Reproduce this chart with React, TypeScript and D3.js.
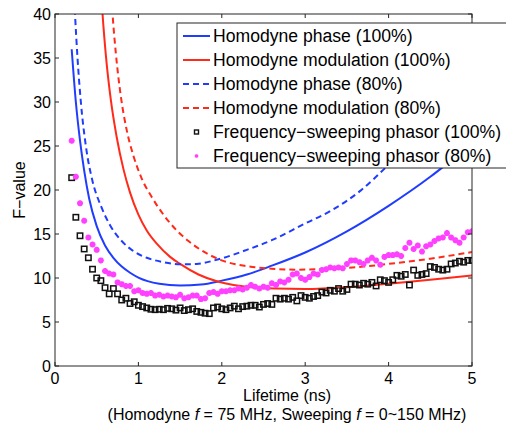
import React from "react";
import * as d3 from "d3";

// ---------- data ----------
const xTicks = [0, 1, 2, 3, 4, 5];
const yTicks = [0, 5, 10, 15, 20, 25, 30, 35, 40];

const phase100Tau = [0.2, 0.25, 0.3, 0.35, 0.41, 0.5, 0.6, 0.7, 0.8, 0.9, 1.0, 1.25, 1.5, 1.75, 2.0, 2.3, 2.6, 3.0, 3.5, 4.0, 4.5, 5.0];
const phase100F = [36, 30, 25.6, 22.2, 19.0, 15.9, 13.7, 12.3, 11.3, 10.6, 10.05, 9.35, 9.15, 9.25, 9.7, 10.4, 11.4, 12.9, 15.3, 18.2, 21.5, 25.3];

const mod100Tau = [0.55, 0.57, 0.61, 0.67, 0.74, 0.82, 0.9, 1.0, 1.1, 1.22, 1.38, 1.5, 1.72, 1.95, 2.14, 2.35, 2.64, 3.0, 3.5, 4.0, 4.5, 5.0];
const mod100F = [43, 40, 35.3, 30.2, 26, 22.4, 19.7, 17.2, 15.4, 13.9, 12.4, 11.6, 10.4, 9.6, 9.2, 8.95, 8.8, 8.75, 8.95, 9.35, 9.8, 10.3];

const phase80Tau = [0.22, 0.24, 0.27, 0.31, 0.37, 0.45, 0.55, 0.66, 0.8, 0.95, 1.1, 1.3, 1.5, 1.7, 1.95, 2.3, 2.6, 3.0, 3.3, 3.66, 3.96, 4.5, 5.0];
const phase80F = [44, 40, 35, 30, 25, 21, 18.2, 16.0, 14.2, 13.0, 12.3, 11.8, 11.55, 11.6, 12.1, 13.2, 14.3, 16.2, 17.6, 19.9, 22.5, 27.5, 33];

const mod80Tau = [0.67, 0.69, 0.73, 0.79, 0.86, 0.94, 1.04, 1.16, 1.3, 1.45, 1.6, 1.8, 2.0, 2.3, 2.6, 2.9, 3.3, 3.7, 4.0, 4.5, 5.0];
const mod80F = [43, 40, 35.5, 30.6, 26.8, 23.9, 21.3, 19.2, 17.2, 15.5, 14.2, 12.9, 12.0, 11.35, 11.05, 10.95, 11.05, 11.3, 11.6, 12.2, 12.95];

const sweepTau = d3.range(97).map((i) => +(0.2 + i * 0.05).toFixed(2));
const sweep100F = [
  21.4, 16.9, 14.8, 13.3, 12.3, 11.0, 10.0, 9.7, 8.9, 8.2,
  8.8, 8.2, 7.5, 7.7, 7.1, 7.3, 6.9, 6.75, 6.6, 6.45,
  6.4, 6.45, 6.4, 6.55, 6.5, 6.35, 6.6, 6.3, 6.4, 6.5,
  6.2, 6.1, 6.0, 5.95, 6.6, 6.7, 6.5, 6.4, 6.6, 6.8,
  6.5, 6.75, 6.8, 6.9, 6.9, 6.7, 7.0, 7.1, 7.0, 7.7,
  7.6, 7.7, 7.6, 7.8, 7.4, 8.0, 7.8, 7.7, 7.9, 8.0,
  8.4, 8.3, 8.6, 8.5, 8.8, 8.5, 8.7, 9.3, 9.3, 9.2,
  9.4, 9.3, 9.5, 9.1, 9.8, 9.7, 9.5, 9.8, 10.3, 10.2,
  10.4, 9.2, 10.9, 10.3, 10.4, 10.5, 11.3, 11.2, 11.0, 10.9,
  11.0, 11.6, 11.7, 11.9, 11.8, 12.0, 12.0,
];
const sweep80F = [
  25.6, 21.5, 18.5, 16.5, 14.6, 13.8, 13.2, 12.0, 10.8, 10.5,
  10.4, 9.5, 9.3, 9.1, 9.1, 8.5, 8.6, 8.3, 8.2, 8.3,
  8.0, 8.1, 7.9, 8.0, 7.9, 7.8, 8.1, 7.7, 7.8, 8.0,
  8.0, 7.6, 7.7, 8.3, 8.4, 8.2, 8.5, 8.5, 8.6, 8.6,
  8.8, 8.7, 8.9, 9.2, 9.0, 8.8, 9.0, 8.9, 9.4, 9.2,
  9.6, 9.5, 9.8, 10.4, 10.5, 10.0, 9.8, 10.1, 10.5, 10.4,
  10.9, 11.0, 11.2, 11.1, 11.2, 11.1, 11.6, 12.0, 12.0, 11.8,
  11.6, 12.0, 12.3, 12.0, 11.5, 12.4, 12.6, 12.6, 12.7, 12.5,
  13.4, 14.0, 13.3, 13.7, 13.0, 13.6, 13.8, 14.2, 14.5, 14.6,
  15.1, 14.6, 14.3, 14.0, 14.6, 15.2, 15.3,
];

const legendLabels = [
  "Homodyne phase (100%)",
  "Homodyne modulation (100%)",
  "Homodyne phase (80%)",
  "Homodyne modulation (80%)",
  "Frequency\u2212sweeping phasor (100%)",
  "Frequency\u2212sweeping phasor (80%)",
];

// ---------- style ----------
const W = 506;
const H = 425;
const BLUE = "#1f3cff";
const RED = "#ff2a1a";
const MAGENTA = "#ff40ff";
const FONT = "'Liberation Sans', Arial, Helvetica, sans-serif";
const AX = "#262626";

const x = d3.scaleLinear().domain([0, 5]).range([55, 472]);
const y = d3.scaleLinear().domain([0, 40]).range([366, 14]);

const lineGen = d3
  .line<[number, number]>()
  .x((d) => x(d[0]))
  .y((d) => y(d[1]))
  .curve(d3.curveMonotoneX);

const zip = (a: number[], b: number[]) => a.map((v, i) => [v, b[i]] as [number, number]);

const asterisk = (cx: number, cy: number, r: number) => {
  const d = r * 0.7071;
  return `M${cx - r},${cy}L${cx + r},${cy}M${cx},${cy - r}L${cx},${cy + r}M${cx - d},${cy - d}L${cx + d},${cy + d}M${cx - d},${cy + d}L${cx + d},${cy - d}`;
};

export default function App() {
  const [x0, x1] = x.range();
  const [y0, y1] = y.range();
  const curves = [
    { tau: phase100Tau, f: phase100F, color: BLUE, dash: null },
    { tau: mod100Tau, f: mod100F, color: RED, dash: null },
    { tau: phase80Tau, f: phase80F, color: BLUE, dash: "6,4" },
    { tau: mod80Tau, f: mod80F, color: RED, dash: "6,4" },
  ];
  const legX = 177;
  const legY = 23;
  const rowH = 24;
  return (
    <svg
      width={W}
      height={H}
      style={{ position: "absolute", left: 0, top: 0, background: "#fff" }}
      fontFamily={FONT}
    >
      <defs>
        <clipPath id="plotclip">
          <rect x={x0} y={y1} width={x1 - x0} height={y0 - y1} />
        </clipPath>
      </defs>
      <rect x={0} y={0} width={W} height={H} fill="#fff" />

      {/* curves */}
      <g clipPath="url(#plotclip)">
        {curves.map((c, i) => (
          <path
            key={i}
            d={lineGen(zip(c.tau, c.f)) || ""}
            fill="none"
            stroke={c.color}
            strokeWidth={2}
            strokeDasharray={c.dash || undefined}
          />
        ))}
        {/* sweep 100% squares */}
        {sweepTau.map((t, i) => (
          <rect
            key={"s" + i}
            x={x(t) - 2.7}
            y={y(sweep100F[i]) - 2.7}
            width={5.4}
            height={5.4}
            fill="none"
            stroke="#111"
            strokeWidth={1.5}
          />
        ))}
        {/* sweep 80% asterisks */}
        {sweepTau.map((t, i) => (
          <path
            key={"p" + i}
            d={asterisk(x(t), y(sweep80F[i]), 3)}
            stroke={MAGENTA}
            strokeWidth={1.9}
            fill="none"
          />
        ))}
      </g>

      {/* axes box */}
      <rect x={x0} y={y1} width={x1 - x0} height={y0 - y1} fill="none" stroke={AX} strokeWidth={1} />
      {xTicks.map((t) => (
        <g key={"xt" + t}>
          <line x1={x(t)} x2={x(t)} y1={y0} y2={y0 - 4} stroke={AX} />
          <line x1={x(t)} x2={x(t)} y1={y1} y2={y1 + 4} stroke={AX} />
          <text x={x(t)} y={y0 + 18} fontSize={16} textAnchor="middle" fill="#000">
            {t}
          </text>
        </g>
      ))}
      {yTicks.map((t) => (
        <g key={"yt" + t}>
          <line x1={x0} x2={x0 + 4} y1={y(t)} y2={y(t)} stroke={AX} />
          <line x1={x1} x2={x1 - 4} y1={y(t)} y2={y(t)} stroke={AX} />
          <text x={x0 - 4} y={y(t)} dy="0.36em" fontSize={16} textAnchor="end" fill="#000">
            {t}
          </text>
        </g>
      ))}

      {/* axis titles */}
      <text x={287} y={401} fontSize={16} textAnchor="middle" fill="#000">
        Lifetime (ns)
      </text>
      <text x={287} y={419.5} fontSize={16} textAnchor="middle" fill="#000">
        (Homodyne <tspan fontStyle="italic">f</tspan> = 75 MHz, Sweeping{" "}
        <tspan fontStyle="italic">f</tspan> = 0~150 MHz)
      </text>
      <text
        transform={`translate(25,${(y0 + y1) / 2}) rotate(-90)`}
        fontSize={16}
        textAnchor="middle"
        fill="#000"
      >
        F{"\u2212"}value
      </text>

      {/* legend */}
      <rect x={legX} y={legY} width={340} height={145} fill="#fff" stroke={AX} strokeWidth={1} />
      {legendLabels.map((lab, i) => {
        const cy = 36 + i * rowH;
        let sample: React.ReactNode = null;
        if (i < 4) {
          const c = curves[i];
          sample = (
            <line
              x1={183}
              x2={210}
              y1={cy}
              y2={cy}
              stroke={c.color}
              strokeWidth={2}
              strokeDasharray={c.dash || undefined}
            />
          );
        } else if (i === 4) {
          sample = <rect x={194.5} y={cy - 2} width={4} height={4} fill="none" stroke="#111" strokeWidth={1.4} />;
        } else {
          sample = <path d={asterisk(196.5, cy, 1.8)} stroke={MAGENTA} strokeWidth={1.4} />;
        }
        return (
          <g key={"lg" + i}>
            {sample}
            <text x={213} y={cy} dy="0.36em" fontSize={17.6} fill="#000">
              {lab}
            </text>
          </g>
        );
      })}
    </svg>
  );
}
